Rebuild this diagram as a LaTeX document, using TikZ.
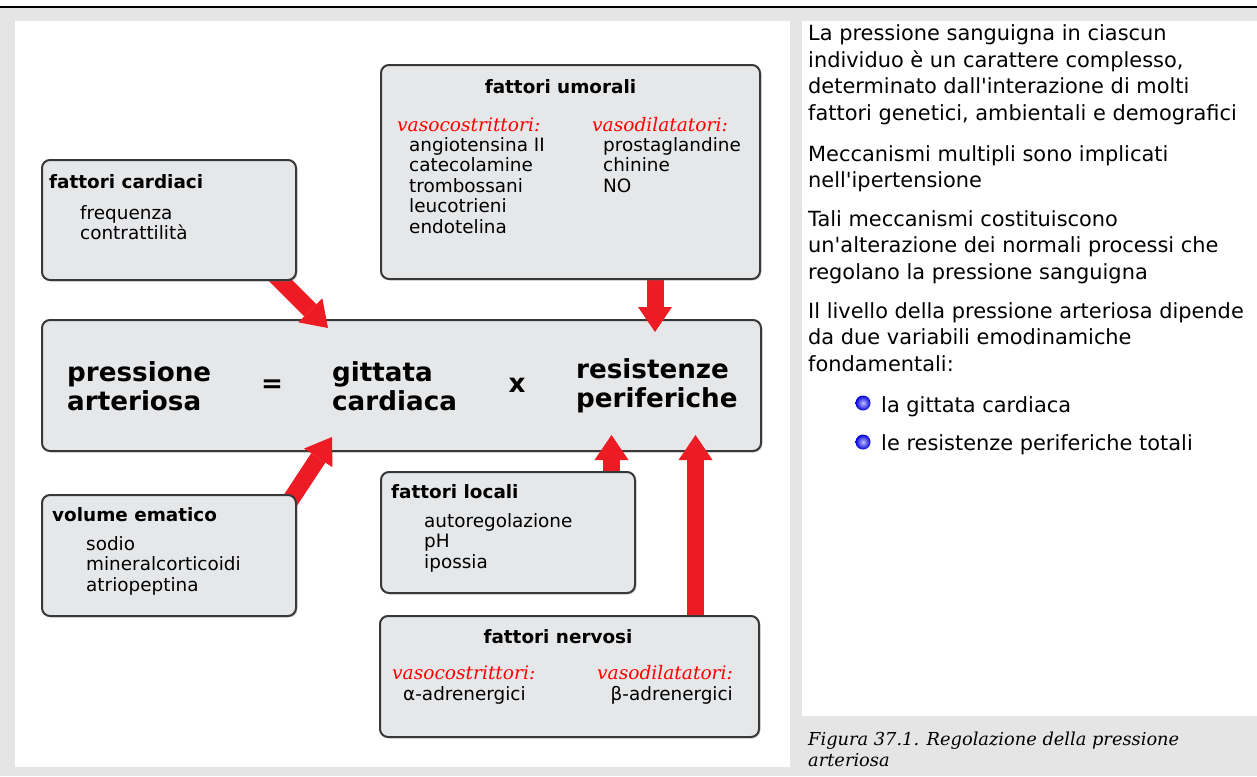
\documentclass[tikz,border=0pt]{standalone}
\usepackage{fontspec}
\setmainfont{DejaVu Sans}
\newfontfamily\serifcorsivo{DejaVu Serif}
\usetikzlibrary{arrows.meta,shadows,shadings}

\definecolor{grigiobg}{HTML}{E5E5E5}
\definecolor{grigiobox}{HTML}{E6E7E9}
\definecolor{bordo}{HTML}{383838}
\definecolor{rossofreccia}{HTML}{ED1C24}
\newcommand{\righe}[1]{\begin{tabular}[t]{@{}l@{}}#1\end{tabular}}
\pgfdeclarelayer{sfondo}
\pgfdeclarelayer{frecce}
\pgfsetlayers{sfondo,frecce,main}

\tikzset{
  riquadro/.style={draw=bordo, line width=2pt, fill=grigiobox, rounded corners=8pt,
    anchor=north west, inner sep=0pt, outer sep=0pt,
    drop shadow={shadow xshift=1.5pt, shadow yshift=-1.5pt, opacity=0.3}},
  titolo/.style={font=\bfseries\fontsize{18.4}{20.5}\selectfont, inner sep=0pt, anchor=base west},
  voce/.style={font=\fontsize{18.4}{20.5}\selectfont, inner sep=0pt, anchor=base west},
  rosso/.style={font=\serifcorsivo\itshape\fontsize{18.6}{20.5}\selectfont, text=red, inner sep=0pt, anchor=base west},
  grande/.style={font=\bfseries\fontsize{26.2}{29}\selectfont, inner sep=0pt, anchor=base west},
  testo/.style={font=\fontsize{20.9}{26.5}\selectfont, inner sep=0pt, anchor=base west},
  didascalia/.style={font=\serifcorsivo\itshape\fontsize{17.8}{21}\selectfont, inner sep=0pt, anchor=base west},
  freccia/.style={draw=rossofreccia, line width=17pt, -{Triangle[length=25pt,width=34pt,line width=0pt]}},
  pallino/.style={inner color=blue!25!white, outer color=blue!85!black},
}

\begin{document}
\begin{tikzpicture}[x=1pt,y=-1pt]
\useasboundingbox (0,0) rectangle (1257,776);

% fondo e pannelli
\begin{pgfonlayer}{sfondo}
\fill[white] (0,0) rectangle (1257,776);
\fill[grigiobg] (0,8) rectangle (1257,776);
\draw[line width=2pt] (0,7) -- (1257,7);
\fill[white] (15,21) rectangle (790,767);
\fill[white] (802,21) rectangle (1257,716);
\node[riquadro, minimum width=719pt, minimum height=131pt] (main) at (42,320) {};
\end{pgfonlayer}

% riquadri dei fattori
\node[riquadro, minimum width=254pt, minimum height=120pt] (cardiaci) at (42,160) {};
\node[riquadro, minimum width=379pt, minimum height=214pt] (umorali) at (381,65) {};
\node[riquadro, minimum width=254pt, minimum height=121pt] (volume) at (42,495) {};
\node[riquadro, minimum width=254pt, minimum height=121pt] (locali) at (381,472) {};
\node[riquadro, minimum width=379pt, minimum height=121pt] (nervosi) at (380,616) {};

% frecce
\begin{pgfonlayer}{frecce}
\draw[freccia] ([xshift=-26pt,yshift=10pt]cardiaci.south east) -- ([xshift=286pt,yshift=-8pt]main.north west);
\draw[freccia] ([xshift=84.5pt,yshift=10pt]umorali.south) -- ([xshift=613pt,yshift=-12pt]main.north west);
\draw[freccia] ([xshift=-8pt,yshift=-9pt]volume.north east) -- ([xshift=290pt,yshift=14pt]main.south west);
\draw[freccia] ([xshift=230.5pt,yshift=-8pt]locali.north west) -- ([xshift=569.5pt,yshift=16pt]main.south west);
\draw[freccia] ([xshift=315.5pt,yshift=-8pt]nervosi.north west) -- ([xshift=653.5pt,yshift=16pt]main.south west);
\end{pgfonlayer}

% equazione
\node[grande] (pa) at (67,381) {\righe{pressione\\arteriosa}};
\node[grande, anchor=center] (uguale) at (272,386) {=};
\node[grande] (gc) at (332,381) {\righe{gittata\\cardiaca}};
\node[grande, anchor=center] (per) at (517,385) {x};
\node[grande] (rp) at (576,378) {\righe{resistenze\\periferiche}};

% testi dei riquadri
\node[titolo] (tcard) at (49,188) {fattori cardiaci};
\node[voce] (vcard) at (80,219) {\righe{frequenza\\contrattilità}};
\node[titolo, anchor=base] (tum) at (560.5,93) {fattori umorali};
\node[rosso] (rum1) at (397,131) {vasocostrittori:};
\node[voce] (vum1) at (409,151) {\righe{angiotensina II\\catecolamine\\trombossani\\leucotrieni\\endotelina}};
\node[rosso] (rum2) at (592,131) {vasodilatatori:};
\node[voce] (vum2) at (603,151) {\righe{prostaglandine\\chinine\\NO}};
\node[titolo] (tvol) at (52,521) {volume ematico};
\node[voce] (vvol) at (86,550) {\righe{sodio\\mineralcorticoidi\\atriopeptina}};
\node[titolo] (tloc) at (391,498) {fattori locali};
\node[voce] (vloc) at (424,527) {\righe{autoregolazione\\pH\\ipossia}};
\node[titolo, anchor=base] (tner) at (558,643) {fattori nervosi};
\node[rosso] (rner1) at (392,679) {vasocostrittori:};
\node[voce] (vner1) at (403,700) {α-adrenergici};
\node[rosso, anchor=base east] (rner2) at (733,679) {vasodilatatori:};
\node[voce, anchor=base east] (vner2) at (733,700) {β-adrenergici};

% testo a destra
\node[testo] (p1) at (808,41) {\righe{La pressione sanguigna in ciascun\\individuo è un carattere complesso,\\determinato dall\textquotesingle interazione di molti\\fattori genetici, ambientali e demografici}};
\node[testo] (p2) at (808,161) {\righe{Meccanismi multipli sono implicati\\nell\textquotesingle ipertensione}};
\node[testo] (p3) at (808,226) {\righe{Tali meccanismi costituiscono\\un\textquotesingle alterazione dei normali processi che\\regolano la pressione sanguigna}};
\node[testo] (p4) at (808,318) {\righe{Il livello della pressione arteriosa dipende\\da due variabili emodinamiche\\fondamentali:}};
\shade[pallino] (863,403) circle[radius=7.5pt];
\shade[pallino] (863,442) circle[radius=7.5pt];
\node[testo] (b1) at (881,412) {la gittata cardiaca};
\node[testo] (b2) at (881,450) {le resistenze periferiche totali};

% didascalia
\node[didascalia] (fig) at (808,745) {\righe{Figura 37.1. Regolazione della pressione\\arteriosa}};
\end{tikzpicture}
\end{document}
